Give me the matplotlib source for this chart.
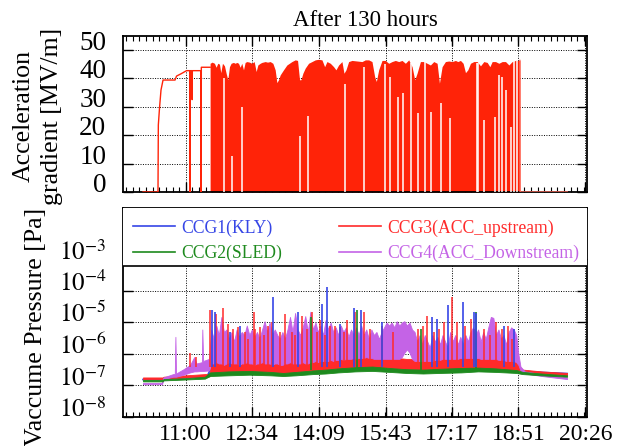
import matplotlib
matplotlib.use('Agg')
import matplotlib.pyplot as plt
from matplotlib.ticker import FixedLocator, AutoMinorLocator, NullLocator
from matplotlib.patches import Rectangle
from matplotlib.lines import Line2D

plt.rcParams['font.family'] = ['Liberation Serif', 'DejaVu Serif']
plt.rcParams['mathtext.fontset'] = 'stix'

# time axis (hours of day)
time_labels = ['11:00', '12:34', '14:09', '15:43', '17:17', '18:51', '20:26']
tick_pos = [int(s[:2]) + int(s[3:]) / 60 for s in time_labels]

# ---- accelerating gradient [MV/m] ----
# conditioning start (thin line)
ramp_t = [9.99, 10.344, 10.352, 10.38, 10.415, 10.463, 10.746, 10.782, 10.888, 11.018,
          11.095, 11.101, 11.107, 11.145, 11.150, 11.155, 11.355, 11.361, 11.367, 11.574]
ramp_v = [0, 0, 23.6, 29.6, 35.9, 39.4, 39.4, 40.8, 41.6, 42.7,
          42.7, 0, 42.7, 42.7, 32.5, 42.7, 42.7, 0, 43.9, 43.9]
# after the end of operation
tail_t = [18.886, 18.89, 20.004]
tail_v = [46.3, 0, 0]
# top envelope of the dense trip region
env_t = [11.574, 11.621, 11.676, 11.716, 11.755, 11.795, 11.826, 11.866, 11.913, 11.952,
         11.992, 12.031, 12.070, 12.125, 12.165, 12.204, 12.244, 12.283, 12.322, 12.362,
         12.401, 12.441, 12.504, 12.559, 12.614, 12.661, 12.701, 12.756, 12.795, 12.874,
         12.929, 12.992, 13.055, 13.110, 13.150, 13.189, 13.228, 13.307, 13.386, 13.504,
         13.583, 13.638, 13.685, 13.717, 13.764, 13.819, 13.898, 13.977, 14.056, 14.135,
         14.214, 14.277, 14.332, 14.411, 14.489, 14.544, 14.607, 14.686, 14.734, 14.781,
         14.844, 14.923, 15.041, 15.159, 15.238, 15.317, 15.395, 15.458, 15.498, 15.553,
         15.632, 15.710, 15.789, 15.868, 15.947, 16.026, 16.104, 16.183, 16.262, 16.341,
         16.404, 16.459, 16.538, 16.616, 16.695, 16.774, 16.853, 16.932, 16.987, 17.050,
         17.128, 17.207, 17.286, 17.365, 17.420, 17.483, 17.546, 17.602, 17.657, 17.720,
         17.798, 17.877, 17.956, 18.035, 18.114, 18.177, 18.232, 18.311, 18.389, 18.468,
         18.547, 18.626, 18.704, 18.783, 18.886]
env_v = [45.3, 45.7, 45.3, 43.9, 45.3, 45.0, 42.0, 45.3, 44.4, 41.8,
         39.5, 44.1, 45.3, 45.6, 45.3, 45.6, 45.3, 43.9, 45.3, 43.0,
         45.6, 45.9, 45.7, 45.3, 45.9, 42.4, 44.7, 45.3, 45.6, 45.9,
         45.7, 45.9, 45.3, 43.0, 38.5, 39.5, 41.2, 43.0, 44.7, 45.9,
         46.5, 46.3, 39.5, 39.5, 41.8, 43.6, 45.3, 45.9, 46.5, 46.7,
         46.5, 44.1, 45.9, 45.3, 44.1, 43.0, 44.7, 45.9, 41.8, 43.0,
         45.9, 46.3, 46.1, 45.9, 46.5, 46.5, 45.9, 40.6, 38.9, 43.0,
         46.3, 46.3, 45.3, 45.9, 46.3, 45.9, 46.3, 45.3, 46.5, 44.1,
         39.5, 41.8, 45.9, 45.9, 45.3, 44.7, 45.9, 45.3, 38.3, 44.1,
         45.9, 46.1, 45.9, 46.3, 45.9, 46.3, 45.3, 42.0, 43.0, 45.3,
         45.9, 45.9, 44.4, 45.9, 45.6, 44.1, 45.9, 45.9, 45.3, 45.9,
         45.9, 44.7, 45.9, 46.3, 46.3]
# short quiet periods (no trip down to zero): time, lowest gradient
gap_t = [11.913, 12.086, 12.338, 13.701, 13.882, 14.750, 15.214, 15.700, 15.829, 16.002,
         16.128, 16.317, 16.482, 16.640, 16.790, 17.034, 17.247, 17.862, 17.900, 18.035,
         18.295, 18.389, 18.468, 18.547, 18.665, 18.744, 18.823]
gap_v = [40.0, 12.5, 29.9, 19.8, 26.6, 38.0, 44.0, 45.0, 40.6, 33.6,
         35.0, 45.5, 27.8, 46.0, 28.3, 31.3, 26.0, 45.5, 45.5, 25.4,
         26.3, 41.2, 40.6, 36.0, 23.0, 46.0, 46.0]

# ---- vacuum pressure [Pa] ----
# CCG1 (KLY) baseline and spikes
p1_t = [9.99, 10.45, 10.48, 11.0, 11.5, 11.57, 13.0, 15.0, 17.0, 18.85, 18.95, 19.4, 20.0]
p1_v = [1.55e-7, 1.55e-7, 1.6e-7, 1.75e-7, 1.9e-7, 3.0e-7, 3.0e-7, 4.0e-7, 3.6e-7, 3.2e-7,
        2.8e-7, 2.6e-7, 2.4e-7]
sp1_t = [11.61, 11.69, 12.04, 12.28, 13.05, 13.66, 14.21, 14.33, 14.65, 14.96,
         15.13, 15.64, 16.82, 16.94, 17.20, 17.55, 17.81, 17.84, 18.51, 18.74]
sp1_v = [2.5e-5, 2.2e-5, 5e-6, 8e-6, 6.5e-5, 2.2e-5, 4e-5, 1.3e-4, 9e-6, 2.8e-5,
         2.5e-5, 1e-5, 1.5e-5, 1.3e-5, 3.5e-5, 4.5e-5, 2.2e-5, 2e-5, 8e-6, 6e-6]
# CCG2 (SLED) band and spikes
p2_t = [9.99, 10.45, 10.48, 11.0, 11.45, 11.57, 12.0, 12.5, 13.0, 13.3, 13.6, 14.0, 14.3,
        14.6, 15.0, 15.4, 15.8, 16.2, 16.6, 17.0, 17.5, 17.9, 18.3, 18.8, 18.95, 19.4, 20.0]
p2_lo = [1.35e-7, 1.35e-7, 1.45e-7, 1.55e-7, 1.65e-7, 2.0e-7, 2.1e-7, 2.2e-7, 2.1e-7, 2.0e-7,
         2.1e-7, 2.3e-7, 2.4e-7, 2.6e-7, 2.8e-7, 2.9e-7, 2.7e-7, 2.5e-7, 2.4e-7, 2.5e-7,
         2.6e-7, 2.8e-7, 2.7e-7, 2.5e-7, 2.3e-7, 2.1e-7, 1.9e-7]
p2_hi = [1.5e-7, 1.5e-7, 1.6e-7, 1.7e-7, 1.9e-7, 2.6e-7, 2.8e-7, 2.9e-7, 2.7e-7, 2.5e-7,
         2.7e-7, 3.0e-7, 3.2e-7, 3.5e-7, 3.8e-7, 4.0e-7, 3.6e-7, 3.3e-7, 3.2e-7, 3.4e-7,
         3.6e-7, 3.7e-7, 3.5e-7, 3.1e-7, 2.7e-7, 2.4e-7, 2.1e-7]
sp2_t = [13.95, 15.03, 16.55, 17.84]
sp2_v = [1.5e-5, 2.5e-5, 6e-6, 2.2e-5]
# CCG3 (ACC_upstream) band and spikes
p3_t = [9.99, 10.45, 10.48, 11.0, 11.45, 11.56, 11.6, 12.0, 12.5, 13.0, 13.3, 13.6, 14.0,
        14.3, 14.6, 15.0, 15.4, 15.8, 16.2, 16.6, 17.0, 17.5, 17.9, 18.3, 18.8, 18.88,
        18.95, 19.4, 20.0]
p3_lo = [1.6e-7, 1.6e-7, 1.65e-7, 1.8e-7, 1.9e-7, 1.95e-7, 2.6e-7, 2.8e-7, 2.9e-7, 2.7e-7,
         2.5e-7, 2.7e-7, 3.0e-7, 3.2e-7, 3.5e-7, 3.8e-7, 4.0e-7, 3.6e-7, 3.3e-7, 3.2e-7,
         3.4e-7, 3.6e-7, 3.7e-7, 3.5e-7, 3.1e-7, 3.0e-7, 2.7e-7, 2.4e-7, 2.1e-7]
p3_hi = [1.8e-7, 1.8e-7, 1.9e-7, 2.1e-7, 2.3e-7, 2.3e-7, 6e-7, 7e-7, 8e-7, 7e-7,
         6e-7, 7e-7, 8e-7, 9e-7, 9e-7, 1e-6, 1e-6, 8e-7, 7e-7, 7e-7,
         8e-7, 9e-7, 1e-6, 9e-7, 8e-7, 4e-7, 3.2e-7, 2.8e-7, 2.5e-7]
sp3_t = [11.09, 11.25, 11.58, 11.72, 11.88, 12.00, 12.12, 12.24, 12.40, 12.48,
         12.60, 12.64, 12.76, 12.84, 12.95, 13.03, 13.23, 13.35, 13.50, 13.58,
         13.74, 13.86, 13.98, 14.10, 14.17, 14.29, 14.41, 14.52, 14.65, 14.73,
         14.80, 15.00, 15.21, 15.35, 15.64, 15.90, 16.47, 16.60, 16.70, 16.85,
         16.98, 17.10, 17.28, 17.41, 17.60, 17.73, 17.80, 18.05, 18.19, 18.33,
         18.47, 18.60, 18.70]
sp3_v = [1.1e-6, 8e-7, 2.5e-5, 1.8e-5, 2.8e-5, 9e-6, 6e-6, 7e-6, 5e-6, 3e-6,
         2.1e-5, 6e-6, 7e-6, 4e-6, 8e-6, 1e-5, 5e-6, 1.9e-5, 5e-6, 4e-6,
         1.6e-5, 6e-6, 2.2e-5, 5e-6, 1.2e-5, 4e-6, 8e-6, 8e-6, 7e-6, 5e-6,
         1.2e-5, 2.2e-5, 2.2e-5, 6e-6, 8e-6, 5e-6, 6e-6, 8e-6, 1.6e-5, 5e-6,
         6e-6, 1e-5, 6.5e-5, 1e-5, 8e-6, 1.3e-5, 6e-6, 6e-6, 4e-6, 1e-5,
         6e-6, 8e-6, 3e-6]
# CCG4 (ACC_Downstream) band
p4_t = [9.99, 10.44, 10.47, 10.70, 10.74, 10.755, 10.77, 10.95, 11.10, 11.20, 11.25, 11.38,
        11.39, 11.41, 11.55,
        11.60, 11.66, 11.72, 11.78, 11.84, 11.90, 11.96, 12.02, 12.08, 12.14, 12.20, 12.26,
        12.32, 12.38, 12.44, 12.50, 12.56, 12.62, 12.68, 12.74, 12.80, 12.86, 12.92, 12.98,
        13.04, 13.10, 13.16, 13.22, 13.28, 13.34, 13.40, 13.46, 13.52, 13.58, 13.64, 13.70,
        13.76, 13.82, 13.88, 13.94, 14.00, 14.06, 14.12, 14.18, 14.24, 14.30, 14.36, 14.42,
        14.48, 14.54, 14.60, 14.66, 14.72, 14.78, 14.84, 14.90, 14.96, 15.02, 15.08, 15.14,
        15.20, 15.26, 15.32, 15.38, 15.44, 15.50, 15.56, 15.62, 15.68, 15.74, 15.80, 15.86,
        15.92, 15.98, 16.04, 16.10, 16.16, 16.22, 16.28, 16.34, 16.40, 16.46, 16.52, 16.58,
        16.64, 16.70, 16.76, 16.82, 16.88, 16.94, 17.00, 17.06, 17.12, 17.18, 17.24, 17.30,
        17.36, 17.42, 17.48, 17.54, 17.60, 17.66, 17.72, 17.78, 17.84, 17.90, 17.96, 18.02,
        18.08, 18.14, 18.20, 18.26, 18.32, 18.38, 18.44, 18.50, 18.56, 18.62, 18.68, 18.74,
        18.80, 18.85, 18.90, 19.00, 19.40, 20.00]
p4_lo = [1.1e-7, 1.1e-7, 1.6e-7, 1.9e-7, 1.9e-7, 1.9e-7, 1.9e-7, 2.2e-7, 2.6e-7, 2.8e-7,
         2.8e-7, 2.9e-7, 2.9e-7, 2.9e-7, 3.0e-7,
         5e-7, 5e-7, 5.5e-7, 5e-7, 5e-7, 4.5e-7, 5e-7, 5.5e-7, 5e-7, 5e-7, 5e-7, 4.5e-7,
         5e-7, 5e-7, 5.5e-7, 5e-7, 5e-7, 4.5e-7, 5e-7, 5e-7, 5.5e-7, 5e-7, 5e-7, 5e-7,
         4.5e-7, 5e-7, 5e-7, 4.5e-7, 4.5e-7, 5e-7, 5e-7, 5.5e-7, 5e-7, 5e-7, 5e-7, 5e-7,
         5.5e-7, 5e-7, 5e-7, 5.5e-7, 5.5e-7, 6e-7, 5.5e-7, 6e-7, 6e-7, 6e-7, 6e-7, 6.5e-7,
         6e-7, 6.5e-7, 6.5e-7, 7e-7, 6.5e-7, 7e-7, 7e-7, 7e-7, 7.5e-7, 7e-7, 7.5e-7, 7.5e-7,
         7.5e-7, 8e-7, 7.5e-7, 7.5e-7, 7e-7, 7e-7, 7e-7, 7e-7, 7e-7, 7e-7, 7e-7, 7e-7,
         7e-7, 7e-7, 7e-7, 8e-7, 1.1e-6, 1.4e-6, 1.1e-6, 7e-7, 6e-7, 6e-7, 6e-7, 6e-7,
         6e-7, 6e-7, 6e-7, 6e-7, 6.5e-7, 6.5e-7, 6.5e-7, 7e-7, 7e-7, 7e-7, 7e-7, 7e-7,
         7e-7, 7e-7, 7.5e-7, 7.5e-7, 7.5e-7, 7.5e-7, 7.5e-7, 7.5e-7, 7.5e-7, 7.5e-7, 7e-7, 7e-7,
         7e-7, 7e-7, 7e-7, 7e-7, 7e-7, 6.5e-7, 6.5e-7, 6.5e-7, 6e-7, 6e-7, 6e-7, 6e-7,
         5.5e-7, 4.5e-7, 3e-7, 2.4e-7, 2.0e-7, 1.6e-7]
p4_hi = [1.2e-7, 1.2e-7, 1.8e-7, 2.3e-7, 2.3e-7, 3.5e-6, 2.4e-7, 3.3e-7, 4.5e-7, 8e-7,
         5e-7, 5.5e-7, 6e-6, 6e-7, 7e-7,
         6e-6, 3e-6, 8e-6, 4e-6, 1.5e-5, 5e-6, 6e-6, 3e-6, 5e-6, 2.5e-6, 6e-6, 3.5e-6,
         5e-6, 4e-6, 8e-6, 4e-6, 6e-6, 3.5e-6, 5e-6, 3e-6, 6e-6, 1.1e-5, 5e-6, 1e-5,
         4e-6, 6e-6, 4e-6, 3e-6, 5e-6, 3e-6, 6e-6, 1.5e-5, 5e-6, 2e-5, 6e-6, 4e-6,
         7e-6, 1.6e-5, 5e-6, 2.2e-5, 6e-6, 1e-5, 5e-6, 8e-6, 4e-6, 1.2e-5, 6e-6, 1e-5,
         5e-6, 7e-6, 4e-6, 8e-6, 5e-6, 7e-6, 3.5e-6, 6e-6, 4e-6, 7e-6, 4e-6, 8e-6,
         4e-6, 6e-6, 3e-6, 6e-6, 4e-6, 5e-6, 3e-6, 5e-6, 7e-6, 1e-5, 8e-6, 1e-5,
         7e-6, 1.1e-5, 8e-6, 1e-5, 1.1e-5, 8e-6, 1e-5, 6e-6, 5e-6, 2.5e-6, 4e-6, 2e-6,
         4e-6, 2.5e-6, 1.6e-6, 4e-6, 2.5e-6, 3.5e-6, 2e-6, 4e-6, 2.5e-6, 1.6e-6, 5e-6, 2.5e-6,
         4e-6, 2e-6, 3.5e-6, 2e-6, 4e-6, 2.5e-6, 5e-6, 7e-6, 4e-6, 6e-6, 2.5e-6, 5e-6,
         3e-6, 7e-6, 1.5e-5, 1.4e-5, 4e-6, 6e-6, 3e-6, 4e-6, 2e-6, 5e-6, 7e-6, 6e-6,
         4e-6, 1e-6, 4e-7, 2.8e-7, 2.3e-7, 1.8e-7]

RED = '#ff2308'
C1, C2, C3, C4 = '#3646e6', '#1e8a1e', '#ff2a2a', '#c463e6'

fig = plt.figure(figsize=(6.19, 4.46), dpi=100)
ax1 = fig.add_axes([123 / 619, 1 - 192 / 446, 464 / 619, 156 / 446])
ax2 = fig.add_axes([123 / 619, 1 - 417 / 446, 464 / 619, 209 / 446])

# top panel
ax1.fill_between(env_t, 0, env_v, color=RED, lw=0, zorder=2)
ax1.vlines(gap_t, 0, gap_v, color='white', lw=1.1, zorder=3)
ax1.plot(ramp_t, ramp_v, color=RED, lw=1.0, zorder=4)
ax1.plot(tail_t, tail_v, color='#ff6a5a', lw=1.0, zorder=4)
ax1.set_ylim(0, 54.9)
ax1.set_yticks([0, 10, 20, 30, 40, 50])
ax1.set_yticklabels(['0', '10', '20', '30', '40', '50'], fontsize=19.5, va='baseline')
ax1.set_xticklabels([])

# bottom panel
ax2.set_yscale('log')
ax2.fill_between(p3_t, p3_lo, p3_hi, color=C3, lw=0.6, edgecolor=C3, zorder=2)
ax2.plot(p1_t, p1_v, color=C1, lw=1.2, zorder=1.9)
ax2.fill_between(p4_t, p4_lo, p4_hi, color=C4, lw=0.6, edgecolor=C4, zorder=2.1)
ax2.vlines(sp3_t, 4e-7, sp3_v, color=C3, lw=1.1, zorder=2.2)
ax2.vlines(sp1_t, 4e-7, sp1_v, color=C1, lw=1.2, zorder=2.3)
ax2.vlines(sp2_t, 3e-7, sp2_v, color=C2, lw=1.2, zorder=2.25)
ax2.fill_between(p2_t, p2_lo, p2_hi, color=C2, lw=0.6, edgecolor=C2, zorder=2.4)
ax2.set_ylim(1e-8, 4.3e-2)
dec = [1e-8, 1e-7, 1e-6, 1e-5, 1e-4, 1e-3]
ax2.set_yticks(dec)
ax2.set_yticklabels([r'$10^{-8}$', r'$10^{-7}$', r'$10^{-6}$', r'$10^{-5}$',
                     r'$10^{-4}$', r'$10^{-3}$'], fontsize=18, va='baseline')
ax2.yaxis.set_minor_locator(NullLocator())

for ax in (ax1, ax2):
    ax.set_xlim(9.518, 20.47)
    ax.xaxis.set_major_locator(FixedLocator(tick_pos))
    ax.xaxis.set_minor_locator(AutoMinorLocator(10))
    ax.set_axisbelow(True)
    ax.grid(True, which='major', color='black', lw=0.7, ls=(0, (1, 1.5)))
    ax.tick_params(which='major', direction='in', top=True, right=True,
                   length=7, width=1.0, pad=5)
    ax.tick_params(which='minor', direction='in', top=True, right=True,
                   length=3.5, width=0.8)
    ax.tick_params(axis='y', pad=12)
    for s in ax.spines.values():
        s.set_linewidth(1.3)
ax1.set_xticklabels([])
ax2.set_xticklabels(time_labels, fontsize=17)

# legend box inside the bottom frame
ax2.add_patch(Rectangle((0, 0.7225), 1, 0.2775, transform=ax2.transAxes,
                        facecolor='white', edgecolor='none', zorder=2.6))
ax2.plot([0, 1], [0.7225, 0.7225], transform=ax2.transAxes, color='black',
         lw=1.2, zorder=2.7)
handles = [Line2D([], [], color=C1, lw=1.2), Line2D([], [], color=C2, lw=1.2),
           Line2D([], [], color=C3, lw=1.2), Line2D([], [], color=C4, lw=1.2)]
names = ['CCG1(KLY)', 'CCG2(SLED)', 'CCG3(ACC_upstream)', 'CCG4(ACC_Downstream)']
ax2.legend(handles, names, ncol=2, loc='upper left', bbox_to_anchor=(0.021, 0.946),
           frameon=False, fontsize=12.7, labelcolor='linecolor', handlelength=2.4,
           handletextpad=0.35, columnspacing=3.2, labelspacing=0.45,
           borderpad=0, borderaxespad=0)

fig.text(365 / 619, 1 - 20 / 446, 'After 130 hours', ha='center', va='center', fontsize=16.5)
fig.text(24 / 619, 1 - 116 / 446, 'Acceleration', rotation=90, ha='center', va='center',
         fontsize=18.6)
fig.text(52 / 619, 1 - 116 / 446, 'gradient [MV/m]', rotation=90, ha='center', va='center',
         fontsize=18.6)
fig.text(36 / 619, 1 - 208 / 446, 'Vaccume Pressure [Pa]', rotation=90, ha='center',
         va='top', fontsize=18.6)

fig.savefig('out.png', dpi=100)
